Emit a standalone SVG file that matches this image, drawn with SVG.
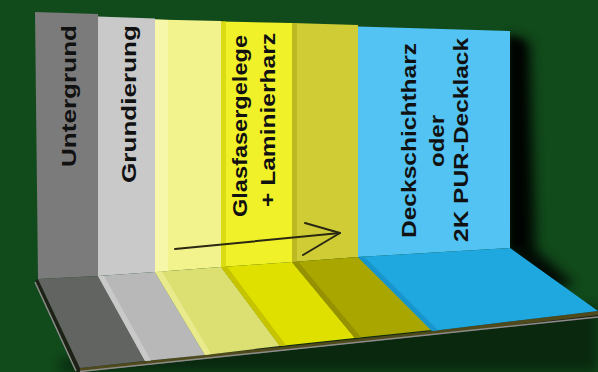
<svg xmlns="http://www.w3.org/2000/svg" width="598" height="372" viewBox="0 0 598 372">
  <defs>
    <filter id="soft" x="-50%" y="-50%" width="200%" height="200%">
      <feGaussianBlur stdDeviation="6"/>
    </filter>
    <filter id="softer" x="-50%" y="-50%" width="200%" height="200%">
      <feGaussianBlur stdDeviation="3"/>
    </filter>
    <style>
      .lbl { font-family: "Liberation Sans", Arial, sans-serif; font-weight: bold; font-size: 21px; fill: #111; text-anchor: middle; }
      .edge { fill: none; stroke: #8c8c8c; stroke-width: 1.5; }
      .arrow { fill: none; stroke: #2a2812; stroke-width: 2; stroke-linecap: round; stroke-linejoin: round; }
    </style>
  </defs>

  <!-- background -->
  <rect width="598" height="372" fill="#114a1b"/>

  <!-- cast shadows -->
  <g id="shadows">
    <polygon points="508,34 530,42 536,250 575,285 540,290 510,252" fill="#000" opacity="0.85" filter="url(#soft)"/>
    <polygon points="509,36 522,42 524,248 509,250" fill="#000" opacity="0.8" filter="url(#softer)"/>
    <polygon points="60,360 598,305 598,372 60,372" fill="#000" opacity="0.45" filter="url(#soft)"/>
  </g>

  <!-- base plate under the floor -->
  <g id="base">
    <polygon points="35,281 77,372 598,318 598,310 432,331 80,368 38,279" fill="#1e2216"/>
    <polygon points="80,368 432,331 598,311 598,315 432,335 80,372" fill="#4e4a1c"/>
    <line class="edge" x1="35" y1="282" x2="76" y2="371"/>
    <line class="edge" x1="80" y1="371.5" x2="598" y2="317"/>
  </g>

  <!-- substrate -->
  <g id="untergrund">
    <polygon points="35,12 98,14 98,276 38,279" fill="#7b7b7b"/>
    <polygon points="38,279 98,276 145,361 80,368" fill="#626462"/>
    <text class="lbl" transform="translate(76,96) rotate(-90)" textLength="142" lengthAdjust="spacingAndGlyphs">Untergrund</text>
  </g>

  <!-- primer -->
  <g id="grundierung">
    <polygon points="98,16.5 155,18.5 155,272 98,276" fill="#c9c9c9"/>
    <polygon points="98,276 155,272 205,355 145,361" fill="#b7b8b7"/>
    <polygon points="98,276 104,276 151,360.5 145,361" fill="#c8c9c8"/>
    <text class="lbl" transform="translate(136,104) rotate(-90)" textLength="158" lengthAdjust="spacingAndGlyphs">Grundierung</text>
  </g>

  <!-- first laminate layer -->
  <g id="laminat-1">
    <polygon points="155,19.5 221,21 221,267 155,272" fill="#f3f38e"/>
    <polygon points="155,19.5 168,20 168,271 155,272" fill="#f7f7aa"/>
    <polygon points="155,272 221,267 280,346 205,355" fill="#dcdf72"/>
    <polygon points="155,272 162,271.5 211,354 205,355" fill="#e8ea8c"/>
  </g>

  <!-- glass fibre mat + laminating resin -->
  <g id="laminat-2">
    <polygon points="221,21.5 292,23 292,262 221,267" fill="#f1f12a"/>
    <polygon points="221,21.5 226,21.6 226,266.6 221,267" fill="#dcdc14"/>
    <polygon points="221,267 292,262 355,338 280,346" fill="#e0e000"/>
    <polygon points="221,267 227,266.6 286,345.3 280,346" fill="#c6c400"/>
    <text class="lbl" transform="translate(247,126) rotate(-90)" textLength="182" lengthAdjust="spacingAndGlyphs">Glasfasergelege</text>
    <text class="lbl" transform="translate(275,120) rotate(-90)" textLength="174" lengthAdjust="spacingAndGlyphs">+ Laminierharz</text>
  </g>

  <!-- further laminate layer -->
  <g id="laminat-3">
    <polygon points="292,23 358,25 358,257 292,262" fill="#cfcc36"/>
    <polygon points="292,23 297,23.2 297,261.6 292,262" fill="#bdb924"/>
    <polygon points="292,262 358,257 432,330 355,338" fill="#aaa600"/>
    <polygon points="292,262 298,261.6 361,337.3 355,338" fill="#959100"/>
  </g>

  <!-- top coat -->
  <g id="deckschicht">
    <polygon points="358,26.5 510,31 510,248 358,257" fill="#52c3f2"/>
    <polygon points="358,257 510,248 598,311 432,331" fill="#1fa7e0"/>
    <polygon points="358,257 364,256.6 438,330.3 432,331" fill="#1896cc"/>
    <text class="lbl" transform="translate(416,140.5) rotate(-90)" textLength="195" lengthAdjust="spacingAndGlyphs">Deckschichtharz</text>
    <text class="lbl" transform="translate(444,141) rotate(-90)" textLength="52" lengthAdjust="spacingAndGlyphs">oder</text>
    <text class="lbl" transform="translate(468,140) rotate(-90)" textLength="204" lengthAdjust="spacingAndGlyphs">2K PUR-Decklack</text>
  </g>

  <!-- direction arrow -->
  <g id="connectors">
    <path class="arrow" d="M175,249 L340,233"/>
    <path class="arrow" d="M305,223 L340,233 L303,255"/>
  </g>
</svg>
